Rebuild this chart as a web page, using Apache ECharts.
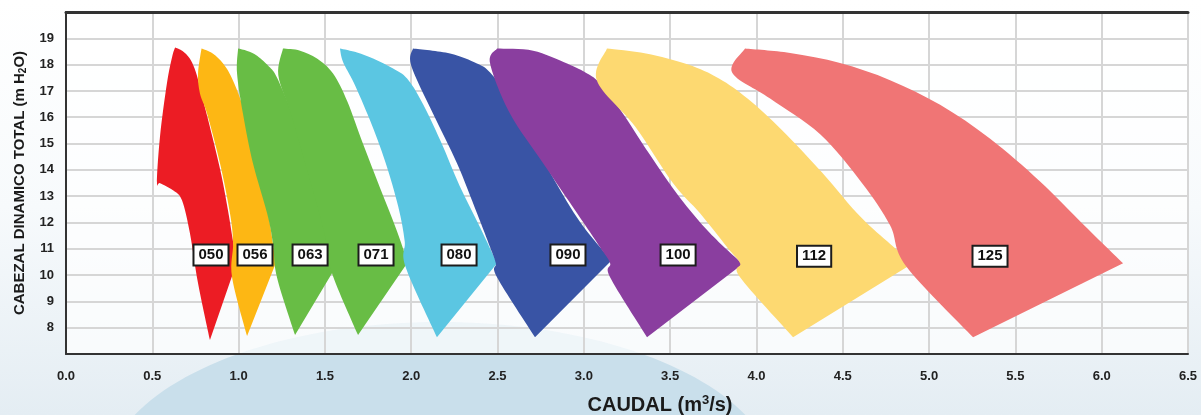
<!DOCTYPE html>
<html>
<head>
<meta charset="utf-8">
<script src="https://cdn.jsdelivr.net/npm/echarts@6/dist/echarts.min.js"></script>
<style>
html,body{margin:0;padding:0;}
body{width:1201px;height:415px;background:linear-gradient(180deg,#ffffff 0%,#f7fafc 50%,#e4edf3 100%);overflow:hidden;}
#chart{width:1201px;height:415px;}
</style>
</head>
<body>
<div id="chart"></div>
<script>
// Model names
const models = ['050','056','063','071','080','090','100','112','125'];

// Each operating range: top arc (top-left corner -> right corner) and
// left side (bottom tip -> up toward top-left corner). [caudal m3/s, cabezal m H2O]
const top050 = [[0.632,18.65],[0.675,18.52],[0.715,18.25],[0.745,17.85],[0.77,17.3],[0.80,16.5],[0.85,15.2],[0.90,13.8],[0.94,12.4],[0.97,11.2],[0.99,10.5]];
const side050 = [[0.834,7.53],[0.765,9.69],[0.718,11.59],[0.672,12.84],[0.62,13.22],[0.545,13.49],[0.527,13.53],[0.545,15.3],[0.585,17.3],[0.615,18.3]];
const top056 = [[0.785,18.61],[0.85,18.42],[0.91,18.04],[0.96,17.5],[1.02,16.5],[1.08,15.1],[1.13,13.6],[1.18,12.0],[1.215,10.45]];
const side056 = [[1.049,7.68],[0.962,9.92],[0.968,11.21],[0.95,12.35],[0.892,14.25],[0.817,16.14],[0.776,16.9],[0.765,17.66]];
const top063 = [[0.997,18.61],[1.05,18.52],[1.107,18.34],[1.182,17.89],[1.222,17.51],[1.30,16.3],[1.38,14.7],[1.45,13.0],[1.52,11.5],[1.58,10.5]];
const side063 = [[1.327,7.72],[1.222,9.92],[1.199,11.21],[1.165,12.35],[1.083,14.25],[1.025,16.14],[0.991,17.66]];
const top071 = [[1.257,18.61],[1.356,18.53],[1.454,18.23],[1.547,17.66],[1.63,16.6],[1.72,15.0],[1.82,13.3],[1.91,11.8],[1.98,10.49]];
const side071 = [[1.692,7.72],[1.541,10.07],[1.50,11.5],[1.44,13.0],[1.37,14.6],[1.30,16.2],[1.23,17.6]];
const top080 = [[1.587,18.61],[1.686,18.46],[1.779,18.23],[1.895,17.85],[1.976,17.47],[2.06,16.6],[2.17,15.1],[2.28,13.4],[2.40,11.8],[2.497,10.45]];
const side080 = [[2.149,7.64],[1.968,10.3],[1.962,11.3],[1.925,12.6],[1.850,14.3],[1.760,15.9],[1.668,17.3],[1.605,18.1]];
const top090 = [[2.01,18.61],[2.225,18.42],[2.381,18.04],[2.457,17.7],[2.56,16.8],[2.69,15.3],[2.83,13.6],[2.98,12.0],[3.16,10.55]];
const side090 = [[2.717,7.64],[2.497,9.92],[2.49,10.45],[2.457,11.06],[2.381,12.35],[2.265,14.25],[2.126,16.14],[2.0,17.96]];
const top100 = [[2.497,18.61],[2.706,18.53],[2.903,18.04],[3.019,17.66],[3.094,17.28],[3.22,16.2],[3.38,14.6],[3.55,13.0],[3.73,11.6],[3.92,10.42]];
const side100 = [[3.366,7.64],[3.152,9.92],[3.152,10.45],[3.094,11.06],[2.961,12.35],[2.764,14.25],[2.572,16.14],[2.457,18.04]];
const top112 = [[3.134,18.61],[3.36,18.42],[3.604,18.0],[3.783,17.47],[3.95,16.7],[4.15,15.5],[4.38,13.9],[4.62,12.1],[4.907,10.45]];
const side112 = [[4.212,7.64],[3.905,9.92],[3.905,10.45],[3.83,11.06],[3.673,12.35],[3.517,13.49],[3.297,15.65],[3.076,17.39]];
const top125 = [[3.934,18.61],[4.195,18.44],[4.484,18.06],[4.774,17.41],[5.064,16.47],[5.354,15.18],[5.643,13.56],[5.904,11.86],[6.124,10.45]];
const side125 = [[5.255,7.64],[4.867,10.34],[4.774,11.89],[4.612,13.49],[4.369,15.35],[4.079,16.71],[3.859,17.70]];

const tops = [top050,top056,top063,top071,top080,top090,top100,top112,top125];
const sides = [side050,side056,side063,side071,side080,side090,side100,side112,side125];

// Model label positions
const labelX = [0.84,1.095,1.414,1.796,2.277,2.908,3.546,4.334,5.353];
const labelY = [10.76,10.76,10.76,10.76,10.76,10.76,10.76,10.72,10.72];

// Styles
const fills = ['#ec1c24','#fdb714','#68bd45','#68bd45','#5bc6e2','#3954a5','#8a3e9f','#fdd971','#f07575'];
const boldFont = "'Liberation Sans Narrow','Liberation Sans',Arial,sans-serif";

// smooth curve (Catmull-Rom as cubic Bezier) through pixel points
function splinePath(pts) {
  let d = '';
  for (let i = 0; i < pts.length - 1; i++) {
    const p0 = pts[Math.max(i - 1, 0)], p1 = pts[i], p2 = pts[i + 1], p3 = pts[Math.min(i + 2, pts.length - 1)];
    const c1 = [p1[0] + (p2[0] - p0[0]) / 6, p1[1] + (p2[1] - p0[1]) / 6];
    const c2 = [p2[0] - (p3[0] - p1[0]) / 6, p2[1] - (p3[1] - p1[1]) / 6];
    d += ` C ${c1[0]} ${c1[1]} ${c2[0]} ${c2[1]} ${p2[0]} ${p2[1]}`;
  }
  return d;
}

const chart = echarts.init(document.getElementById('chart'), null, {renderer:'canvas'});
chart.setOption({
  backgroundColor: 'transparent',
  animation: false,
  graphic: [{
    type: 'ellipse', z: -100, silent: true,
    shape: {cx: 440, cy: 480, rx: 335, ry: 158},
    style: {fill: '#c9dfeb'}
  }],
  grid: {left: 66, right: 13, top: 12, bottom: 61, show: true, containLabel: false, outerBoundsMode: 'none',
         backgroundColor: 'rgba(255,255,255,0.7)', borderColor: '#9a9a9a', borderWidth: 1},
  xAxis: [{
    type: 'value', min: 0, max: 6.5, interval: 0.5,
    name: '{a|CAUDAL (m}{s|3}{a|/s)}', nameLocation: 'middle', nameGap: 40,
    nameTextStyle: {padding: [0,0,0,66], rich: {
      a: {fontSize: 20, fontWeight: 'bold', color: '#1a1a1a', fontFamily: 'Liberation Sans, Arial'},
      s: {fontSize: 13, fontWeight: 'bold', color: '#1a1a1a', fontFamily: 'Liberation Sans, Arial', padding: [0,0,10,0]}
    }},
    axisLine: {show: true, lineStyle: {color: '#333', width: 2}},
    axisTick: {show: false},
    axisLabel: {margin: 16, fontSize: 13, fontWeight: 'bold', color: '#222', fontFamily: boldFont,
                formatter: v => v.toFixed(1)},
    splitLine: {show: true, lineStyle: {color: '#d6d6d6', width: 2}}
  }, {
    type: 'value', min: 0, max: 6.5, position: 'top',
    axisLine: {show: true, onZero: false, lineStyle: {color: '#333', width: 3}},
    axisTick: {show: false}, axisLabel: {show: false}, splitLine: {show: false}
  }],
  yAxis: {
    type: 'value', min: 7, max: 20, interval: 1,
    name: '{a|CABEZAL DINAMICO TOTAL (m H}{b|2}{a|O)}', nameLocation: 'middle', nameGap: 37, nameRotate: 90,
    nameTextStyle: {rich: {
      a: {fontSize: 15, fontWeight: 'bold', color: '#1a1a1a', fontFamily: 'Liberation Sans, Arial'},
      b: {fontSize: 10, fontWeight: 'bold', color: '#1a1a1a', fontFamily: 'Liberation Sans, Arial', padding: [8,0,0,0]}
    }},
    axisLine: {show: true, lineStyle: {color: '#333', width: 2}},
    axisTick: {show: false},
    axisLabel: {margin: 12, fontSize: 13, fontWeight: 'bold', color: '#222', fontFamily: boldFont,
                formatter: v => (v < 8 || v > 19) ? '' : String(v)},
    splitLine: {show: true, lineStyle: {color: '#d6d6d6', width: 2}}
  },
  series: [{
    type: 'custom', name: 'ranges',
    data: models.map((m, i) => [i]),
    encode: {x: -1, y: -1},
    renderItem: (params, api) => {
      const i = params.dataIndex;
      const topPx = tops[i].map(p => api.coord(p));
      const sidePx = sides[i].map(p => api.coord(p)).concat([topPx[0]]);
      let d = `M ${topPx[0][0]} ${topPx[0][1]}` + splinePath(topPx);
      d += ` L ${sidePx[0][0]} ${sidePx[0][1]}` + splinePath(sidePx) + ' Z';
      return {type: 'path', shape: {pathData: d}, style: {fill: fills[i], stroke: null}};
    },
    z: 2
  }, {
    type: 'custom', name: 'labels', z: 5,
    data: models.map((m, i) => [labelX[i], labelY[i]]),
    renderItem: (params, api) => {
      const i = params.dataIndex;
      const p = api.coord([api.value(0), api.value(1)]);
      return {type: 'text', x: p[0], y: p[1], style: {
        text: models[i], align: 'center', verticalAlign: 'middle',
        font: "bold 15px 'Liberation Sans Narrow','Liberation Sans',Arial,sans-serif",
        fill: '#111', backgroundColor: '#ffffff', borderColor: '#1c1c1c', borderWidth: 2,
        padding: [3,4,1,4]
      }};
    }
  }]
});
</script>
</body>
</html>
